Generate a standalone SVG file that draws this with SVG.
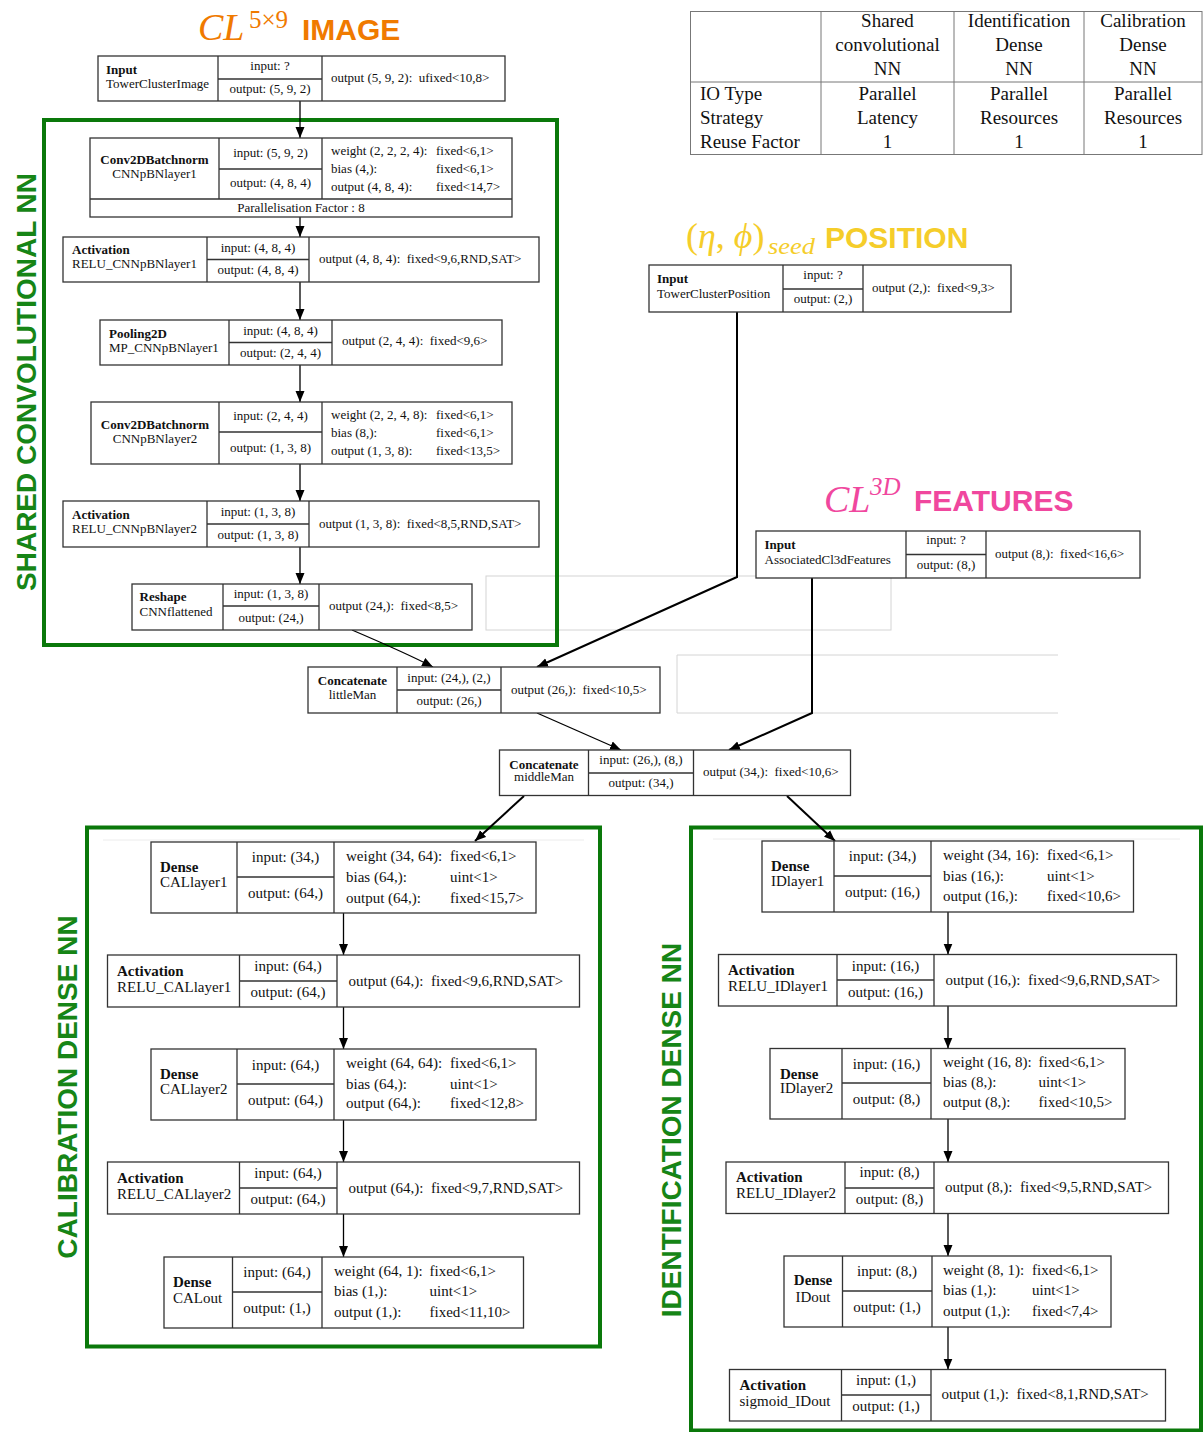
<svg xmlns="http://www.w3.org/2000/svg" width="1204" height="1432" viewBox="0 0 1204 1432">
<style>
.bx{fill:#fff;stroke:#333;stroke-width:1.3}
.ln{stroke:#333;stroke-width:1.3;fill:none}
.t{font-family:"Liberation Serif",serif;font-size:13px;fill:#111}
.d{font-family:"Liberation Serif",serif;font-size:15px;fill:#111}
.b{font-weight:bold}
.m{text-anchor:middle}
.e{stroke:#000;stroke-width:1.3;fill:none;marker-end:url(#ah)}
.e2{stroke:#000;stroke-width:2;fill:none;marker-end:url(#ah)}
.grp{fill:none;stroke:#0a780a;stroke-width:4}
.vl{font-family:"Liberation Sans",Arial,sans-serif;font-weight:bold;font-size:28px;fill:#168516;text-anchor:middle}
.ttl{font-family:"Liberation Sans",Arial,sans-serif;font-weight:bold;font-size:30px}
.math{font-family:"Liberation Serif",serif;font-style:italic}
.tb{font-family:"Liberation Serif",serif;font-size:19px;fill:#111}
.faint{fill:none;stroke:#d4d4d4;stroke-width:1}
</style>
<defs>
<marker id="ah" markerWidth="12" markerHeight="10" refX="11" refY="5" orient="auto" markerUnits="userSpaceOnUse"><path d="M0,0.5 L11,5 L0,9.5 z" fill="#000"/></marker>
</defs>

<!-- faint artifacts -->
<rect class="faint" x="486" y="576" width="405" height="54"/>
<path class="faint" d="M1058,655 L677,655 L677,713 L1058,713"/>
<line x1="103" y1="840" x2="584" y2="840" stroke="#ececec" stroke-width="1"/>
<line x1="713" y1="839" x2="1180" y2="839" stroke="#ececec" stroke-width="1"/>

<!-- table -->
<g id="table">
<rect x="690.5" y="11.5" width="511.5" height="143" fill="#fff" stroke="#777" stroke-width="1"/>
<line x1="690.5" y1="82" x2="1202" y2="82" stroke="#777" stroke-width="1"/>
<line x1="821" y1="11.5" x2="821" y2="154.5" stroke="#777" stroke-width="1"/>
<line x1="954" y1="11.5" x2="954" y2="154.5" stroke="#777" stroke-width="1"/>
<line x1="1084" y1="11.5" x2="1084" y2="154.5" stroke="#777" stroke-width="1"/>
<text class="tb m" x="887.5" y="27">Shared</text>
<text class="tb m" x="887.5" y="51">convolutional</text>
<text class="tb m" x="887.5" y="75">NN</text>
<text class="tb m" x="1019" y="27">Identification</text>
<text class="tb m" x="1019" y="51">Dense</text>
<text class="tb m" x="1019" y="75">NN</text>
<text class="tb m" x="1143" y="27">Calibration</text>
<text class="tb m" x="1143" y="51">Dense</text>
<text class="tb m" x="1143" y="75">NN</text>
<text class="tb" x="700" y="100">IO Type</text>
<text class="tb" x="700" y="124">Strategy</text>
<text class="tb" x="700" y="148">Reuse Factor</text>
<text class="tb m" x="887.5" y="100">Parallel</text>
<text class="tb m" x="887.5" y="124">Latency</text>
<text class="tb m" x="887.5" y="148">1</text>
<text class="tb m" x="1019" y="100">Parallel</text>
<text class="tb m" x="1019" y="124">Resources</text>
<text class="tb m" x="1019" y="148">1</text>
<text class="tb m" x="1143" y="100">Parallel</text>
<text class="tb m" x="1143" y="124">Resources</text>
<text class="tb m" x="1143" y="148">1</text>
</g>

<!-- titles -->
<g id="title-image" fill="#f07a00">
<text class="math" x="198" y="40" font-size="38">CL</text>
<text font-family="Liberation Serif,serif" x="249" y="28" font-size="25">5×9</text>
<text class="ttl" x="302" y="40">IMAGE</text>
</g>
<g id="title-position" fill="#f5cd2a">
<text font-family="Liberation Serif,serif" x="686" y="248" font-size="36">(<tspan font-style="italic">η</tspan>, <tspan font-style="italic">ϕ</tspan>)</text>
<text class="math" x="768" y="254" font-size="24" textLength="47" lengthAdjust="spacingAndGlyphs">seed</text>
<text class="ttl" x="825" y="248">POSITION</text>
</g>
<g id="title-features" fill="#f0479e">
<text class="math" x="824" y="512" font-size="38">CL</text>
<text class="math" x="870" y="495" font-size="25">3D</text>
<text class="ttl" x="914" y="511">FEATURES</text>
</g>

<!-- group boxes and labels -->
<rect class="grp" x="44" y="120" width="513" height="525"/>
<rect class="grp" x="87" y="827.5" width="513" height="519"/>
<rect class="grp" x="691" y="827.5" width="510" height="603"/>
<text class="vl" transform="translate(36,382) rotate(-90)">SHARED CONVOLUTIONAL NN</text>
<text class="vl" transform="translate(77,1087) rotate(-90)">CALIBRATION DENSE NN</text>
<text class="vl" transform="translate(681,1130) rotate(-90)">IDENTIFICATION DENSE NN</text>

<!-- connectors -->
<g id="connectors">
<line class="e" x1="300" y1="101" x2="300" y2="138"/>
<line class="e" x1="300" y1="217" x2="300" y2="237"/>
<line class="e" x1="300" y1="282" x2="300" y2="320"/>
<line class="e" x1="300" y1="365" x2="300" y2="402"/>
<line class="e" x1="300" y1="464" x2="300" y2="501"/>
<line class="e" x1="300" y1="547" x2="300" y2="584"/>
<path class="e" d="M352,630 C380,642 408,654 433,667"/>
<path class="e2" d="M737,312 L737,577 L537,667"/>
<path class="e" d="M537,713 L621,750"/>
<path class="e2" d="M812,578 L812,713 L729,750"/>
<path class="e2" d="M524,796 L475,841"/>
<path class="e2" d="M787,796 L835,841"/>
<line class="e" x1="343.5" y1="913" x2="343.5" y2="955"/>
<line class="e" x1="343.5" y1="1007" x2="343.5" y2="1049"/>
<line class="e" x1="343.5" y1="1120" x2="343.5" y2="1162"/>
<line class="e" x1="343.5" y1="1214" x2="343.5" y2="1257"/>
<line class="e" x1="948" y1="912" x2="948" y2="954.5"/>
<line class="e" x1="948" y1="1006" x2="948" y2="1048.5"/>
<line class="e" x1="948" y1="1119" x2="948" y2="1162"/>
<line class="e" x1="948" y1="1213.5" x2="948" y2="1256"/>
<line class="e" x1="948" y1="1327" x2="948" y2="1369.5"/>
</g>

<!-- shared convolutional nodes -->
<g id="TowerClusterImage">
<rect class="bx" x="98" y="56" width="407" height="45"/>
<path class="ln" d="M218,56 V101 M322,56 V101 M218,79 H322"/>
<text class="t b" x="106" y="74">Input</text>
<text class="t" x="106" y="87.5">TowerClusterImage</text>
<text class="t m" x="270" y="70">input: ?</text>
<text class="t m" x="270" y="93">output: (5, 9, 2)</text>
<text class="t" x="331" y="82">output (5, 9, 2):&#160; ufixed&lt;10,8&gt;</text>
</g>
<g id="CNNpBNlayer1">
<rect class="bx" x="90" y="138" width="422" height="79"/>
<path class="ln" d="M219,138 V199 M322,138 V199 M90,199 H512 M219,169 H322"/>
<text class="t b m" x="154.5" y="164">Conv2DBatchnorm</text>
<text class="t m" x="154.5" y="178">CNNpBNlayer1</text>
<text class="t m" x="270.5" y="157">input: (5, 9, 2)</text>
<text class="t m" x="270.5" y="187">output: (4, 8, 4)</text>
<text class="t" x="331" y="155">weight (2, 2, 2, 4):</text><text class="t" x="436" y="155">fixed&lt;6,1&gt;</text>
<text class="t" x="331" y="173">bias (4,):</text><text class="t" x="436" y="173">fixed&lt;6,1&gt;</text>
<text class="t" x="331" y="191">output (4, 8, 4):</text><text class="t" x="436" y="191">fixed&lt;14,7&gt;</text>
<text class="t m" x="301" y="212" font-size="12.5">Parallelisation Factor : 8</text>
</g>
<g id="RELU_CNNpBNlayer1">
<rect class="bx" x="63" y="237" width="476" height="45"/>
<path class="ln" d="M207,237 V282 M309,237 V282 M207,259.5 H309"/>
<text class="t b" x="72" y="254">Activation</text>
<text class="t" x="72" y="268">RELU_CNNpBNlayer1</text>
<text class="t m" x="258" y="251.5">input: (4, 8, 4)</text>
<text class="t m" x="258" y="273.5">output: (4, 8, 4)</text>
<text class="t" x="319" y="263">output (4, 8, 4):&#160; fixed&lt;9,6,RND,SAT&gt;</text>
</g>
<g id="MP_CNNpBNlayer1">
<rect class="bx" x="100" y="320" width="402" height="45"/>
<path class="ln" d="M229,320 V365 M332,320 V365 M229,342.5 H332"/>
<text class="t b" x="109" y="337.5">Pooling2D</text>
<text class="t" x="109" y="351.5">MP_CNNpBNlayer1</text>
<text class="t m" x="280.5" y="335">input: (4, 8, 4)</text>
<text class="t m" x="280.5" y="357">output: (2, 4, 4)</text>
<text class="t" x="342" y="345">output (2, 4, 4):&#160; fixed&lt;9,6&gt;</text>
</g>
<g id="CNNpBNlayer2">
<rect class="bx" x="91" y="402" width="421" height="62"/>
<path class="ln" d="M219,402 V464 M322,402 V464 M219,432 H322"/>
<text class="t b m" x="155" y="429">Conv2DBatchnorm</text>
<text class="t m" x="155" y="443">CNNpBNlayer2</text>
<text class="t m" x="270.5" y="420">input: (2, 4, 4)</text>
<text class="t m" x="270.5" y="452">output: (1, 3, 8)</text>
<text class="t" x="331" y="419">weight (2, 2, 4, 8):</text><text class="t" x="436" y="419">fixed&lt;6,1&gt;</text>
<text class="t" x="331" y="437">bias (8,):</text><text class="t" x="436" y="437">fixed&lt;6,1&gt;</text>
<text class="t" x="331" y="455">output (1, 3, 8):</text><text class="t" x="436" y="455">fixed&lt;13,5&gt;</text>
</g>
<g id="RELU_CNNpBNlayer2">
<rect class="bx" x="63" y="501" width="476" height="46"/>
<path class="ln" d="M207,501 V547 M309,501 V547 M207,524 H309"/>
<text class="t b" x="72" y="519">Activation</text>
<text class="t" x="72" y="533">RELU_CNNpBNlayer2</text>
<text class="t m" x="258" y="516">input: (1, 3, 8)</text>
<text class="t m" x="258" y="538.5">output: (1, 3, 8)</text>
<text class="t" x="319" y="527.5">output (1, 3, 8):&#160; fixed&lt;8,5,RND,SAT&gt;</text>
</g>
<g id="CNNflattened">
<rect class="bx" x="132" y="584" width="340" height="46"/>
<path class="ln" d="M223,584 V630 M319,584 V630 M223,606 H319"/>
<text class="t b" x="139.5" y="601">Reshape</text>
<text class="t" x="139.5" y="616">CNNflattened</text>
<text class="t m" x="271" y="597.5">input: (1, 3, 8)</text>
<text class="t m" x="271" y="621.5">output: (24,)</text>
<text class="t" x="329" y="610">output (24,):&#160; fixed&lt;8,5&gt;</text>
</g>

<!-- inputs -->
<g id="TowerClusterPosition">
<rect class="bx" x="649" y="265" width="362" height="47"/>
<path class="ln" d="M783,265 V312 M863,265 V312 M783,289 H863"/>
<text class="t b" x="657" y="283">Input</text>
<text class="t" x="657" y="297.5">TowerClusterPosition</text>
<text class="t m" x="823" y="278.5">input: ?</text>
<text class="t m" x="823" y="303">output: (2,)</text>
<text class="t" x="872" y="292">output (2,):&#160; fixed&lt;9,3&gt;</text>
</g>
<g id="AssociatedCl3dFeatures">
<rect class="bx" x="756" y="531" width="384" height="47"/>
<path class="ln" d="M906,531 V578 M986,531 V578 M906,554.5 H986"/>
<text class="t b" x="764.5" y="549">Input</text>
<text class="t" x="764.5" y="563.5">AssociatedCl3dFeatures</text>
<text class="t m" x="946" y="544">input: ?</text>
<text class="t m" x="946" y="568.5">output: (8,)</text>
<text class="t" x="995" y="557.5">output (8,):&#160; fixed&lt;16,6&gt;</text>
</g>

<!-- concatenates -->
<g id="littleMan">
<rect class="bx" x="308" y="667" width="352" height="46"/>
<path class="ln" d="M397,667 V713 M501,667 V713 M397,690 H501"/>
<text class="t b m" x="352.5" y="685">Concatenate</text>
<text class="t m" x="352.5" y="698.5">littleMan</text>
<text class="t m" x="449" y="681.5">input: (24,), (2,)</text>
<text class="t m" x="449" y="705">output: (26,)</text>
<text class="t" x="511" y="693.5">output (26,):&#160; fixed&lt;10,5&gt;</text>
</g>
<g id="middleMan">
<rect class="bx" x="499.5" y="750" width="351" height="45.5"/>
<path class="ln" d="M588.5,750 V795.5 M693.5,750 V795.5 M588.5,773 H693.5"/>
<text class="t b m" x="544" y="768.5">Concatenate</text>
<text class="t m" x="544" y="781">middleMan</text>
<text class="t m" x="641" y="763.5">input: (26,), (8,)</text>
<text class="t m" x="641" y="787">output: (34,)</text>
<text class="t" x="703" y="776">output (34,):&#160; fixed&lt;10,6&gt;</text>
</g>

<!-- calibration -->
<g id="CALlayer1">
<rect class="bx" x="151" y="842" width="385" height="71"/>
<path class="ln" d="M237,842 V913 M334,842 V913 M237,877 H334"/>
<text class="d b" x="160" y="872">Dense</text>
<text class="d" x="160" y="887">CALlayer1</text>
<text class="d m" x="285.5" y="862">input: (34,)</text>
<text class="d m" x="285.5" y="897.5">output: (64,)</text>
<text class="d" x="346" y="860.5">weight (34, 64):</text><text class="d" x="450" y="860.5">fixed&lt;6,1&gt;</text>
<text class="d" x="346" y="882">bias (64,):</text><text class="d" x="450" y="882">uint&lt;1&gt;</text>
<text class="d" x="346" y="902.5">output (64,):</text><text class="d" x="450" y="902.5">fixed&lt;15,7&gt;</text>
</g>
<g id="RELU_CALlayer1">
<rect class="bx" x="107.5" y="955" width="472" height="52"/>
<path class="ln" d="M239.5,955 V1007 M337,955 V1007 M239.5,981 H337"/>
<text class="d b" x="117" y="975.5">Activation</text>
<text class="d" x="117" y="991.5">RELU_CALlayer1</text>
<text class="d m" x="288" y="971">input: (64,)</text>
<text class="d m" x="288" y="997">output: (64,)</text>
<text class="d" x="348.5" y="985.5">output (64,):&#160; fixed&lt;9,6,RND,SAT&gt;</text>
</g>
<g id="CALlayer2">
<rect class="bx" x="151" y="1049" width="385" height="71"/>
<path class="ln" d="M237,1049 V1120 M334,1049 V1120 M237,1084 H334"/>
<text class="d b" x="160" y="1079">Dense</text>
<text class="d" x="160" y="1094">CALlayer2</text>
<text class="d m" x="285.5" y="1069.5">input: (64,)</text>
<text class="d m" x="285.5" y="1104.5">output: (64,)</text>
<text class="d" x="346" y="1067.5">weight (64, 64):</text><text class="d" x="450" y="1067.5">fixed&lt;6,1&gt;</text>
<text class="d" x="346" y="1088.5">bias (64,):</text><text class="d" x="450" y="1088.5">uint&lt;1&gt;</text>
<text class="d" x="346" y="1108">output (64,):</text><text class="d" x="450" y="1108">fixed&lt;12,8&gt;</text>
</g>
<g id="RELU_CALlayer2">
<rect class="bx" x="107.5" y="1162" width="472" height="52"/>
<path class="ln" d="M239.5,1162 V1214 M337,1162 V1214 M239.5,1188 H337"/>
<text class="d b" x="117" y="1182.5">Activation</text>
<text class="d" x="117" y="1198.5">RELU_CALlayer2</text>
<text class="d m" x="288" y="1178">input: (64,)</text>
<text class="d m" x="288" y="1203.5">output: (64,)</text>
<text class="d" x="348.5" y="1192.5">output (64,):&#160; fixed&lt;9,7,RND,SAT&gt;</text>
</g>
<g id="CALout">
<rect class="bx" x="164" y="1257" width="359.5" height="71"/>
<path class="ln" d="M232.5,1257 V1328 M322,1257 V1328 M232.5,1292 H322"/>
<text class="d b" x="173" y="1287">Dense</text>
<text class="d" x="173" y="1303">CALout</text>
<text class="d m" x="277" y="1277">input: (64,)</text>
<text class="d m" x="277" y="1313">output: (1,)</text>
<text class="d" x="334" y="1276">weight (64, 1):</text><text class="d" x="429.5" y="1276">fixed&lt;6,1&gt;</text>
<text class="d" x="334" y="1296">bias (1,):</text><text class="d" x="429.5" y="1296">uint&lt;1&gt;</text>
<text class="d" x="334" y="1316.5">output (1,):</text><text class="d" x="429.5" y="1316.5">fixed&lt;11,10&gt;</text>
</g>

<!-- identification -->
<g id="IDlayer1">
<rect class="bx" x="762" y="841" width="371.5" height="71"/>
<path class="ln" d="M834,841 V912 M931,841 V912 M834,876 H931"/>
<text class="d b" x="771" y="871">Dense</text>
<text class="d" x="771" y="886">IDlayer1</text>
<text class="d m" x="882.5" y="861">input: (34,)</text>
<text class="d m" x="882.5" y="897">output: (16,)</text>
<text class="d" x="943" y="859.5">weight (34, 16):</text><text class="d" x="1047" y="859.5">fixed&lt;6,1&gt;</text>
<text class="d" x="943" y="881">bias (16,):</text><text class="d" x="1047" y="881">uint&lt;1&gt;</text>
<text class="d" x="943" y="901">output (16,):</text><text class="d" x="1047" y="901">fixed&lt;10,6&gt;</text>
</g>
<g id="RELU_IDlayer1">
<rect class="bx" x="718.5" y="954.5" width="458" height="51.5"/>
<path class="ln" d="M837,954.5 V1006 M934,954.5 V1006 M837,980 H934"/>
<text class="d b" x="728" y="975">Activation</text>
<text class="d" x="728" y="990.5">RELU_IDlayer1</text>
<text class="d m" x="885.5" y="970.5">input: (16,)</text>
<text class="d m" x="885.5" y="996.5">output: (16,)</text>
<text class="d" x="945.5" y="984.5">output (16,):&#160; fixed&lt;9,6,RND,SAT&gt;</text>
</g>
<g id="IDlayer2">
<rect class="bx" x="770" y="1048.5" width="355" height="70.5"/>
<path class="ln" d="M842,1048.5 V1119 M931,1048.5 V1119 M842,1083 H931"/>
<text class="d b" x="780" y="1078.5">Dense</text>
<text class="d" x="780" y="1093">IDlayer2</text>
<text class="d m" x="886.5" y="1068.5">input: (16,)</text>
<text class="d m" x="886.5" y="1104">output: (8,)</text>
<text class="d" x="943" y="1067">weight (16, 8):</text><text class="d" x="1038.5" y="1067">fixed&lt;6,1&gt;</text>
<text class="d" x="943" y="1087">bias (8,):</text><text class="d" x="1038.5" y="1087">uint&lt;1&gt;</text>
<text class="d" x="943" y="1107">output (8,):</text><text class="d" x="1038.5" y="1107">fixed&lt;10,5&gt;</text>
</g>
<g id="RELU_IDlayer2">
<rect class="bx" x="726" y="1162" width="442.5" height="51.5"/>
<path class="ln" d="M845,1162 V1213.5 M934,1162 V1213.5 M845,1188 H934"/>
<text class="d b" x="736" y="1182">Activation</text>
<text class="d" x="736" y="1197.5">RELU_IDlayer2</text>
<text class="d m" x="889.5" y="1177">input: (8,)</text>
<text class="d m" x="889.5" y="1203.5">output: (8,)</text>
<text class="d" x="945" y="1192">output (8,):&#160; fixed&lt;9,5,RND,SAT&gt;</text>
</g>
<g id="IDout">
<rect class="bx" x="784" y="1256" width="327" height="71"/>
<path class="ln" d="M842.5,1256 V1327 M932,1256 V1327 M842.5,1291 H932"/>
<text class="d b m" x="813" y="1285">Dense</text>
<text class="d m" x="813" y="1302">IDout</text>
<text class="d m" x="887" y="1276">input: (8,)</text>
<text class="d m" x="887" y="1312">output: (1,)</text>
<text class="d" x="943" y="1275">weight (8, 1):</text><text class="d" x="1032" y="1275">fixed&lt;6,1&gt;</text>
<text class="d" x="943" y="1295">bias (1,):</text><text class="d" x="1032" y="1295">uint&lt;1&gt;</text>
<text class="d" x="943" y="1315.5">output (1,):</text><text class="d" x="1032" y="1315.5">fixed&lt;7,4&gt;</text>
</g>
<g id="sigmoid_IDout">
<rect class="bx" x="729.5" y="1369.5" width="436" height="51.5"/>
<path class="ln" d="M841.5,1369.5 V1421 M931,1369.5 V1421 M841.5,1395 H931"/>
<text class="d b" x="739.5" y="1390">Activation</text>
<text class="d" x="739.5" y="1405.5">sigmoid_IDout</text>
<text class="d m" x="886" y="1385">input: (1,)</text>
<text class="d m" x="886" y="1410.5">output: (1,)</text>
<text class="d" x="941.5" y="1398.5">output (1,):&#160; fixed&lt;8,1,RND,SAT&gt;</text>
</g>
</svg>
